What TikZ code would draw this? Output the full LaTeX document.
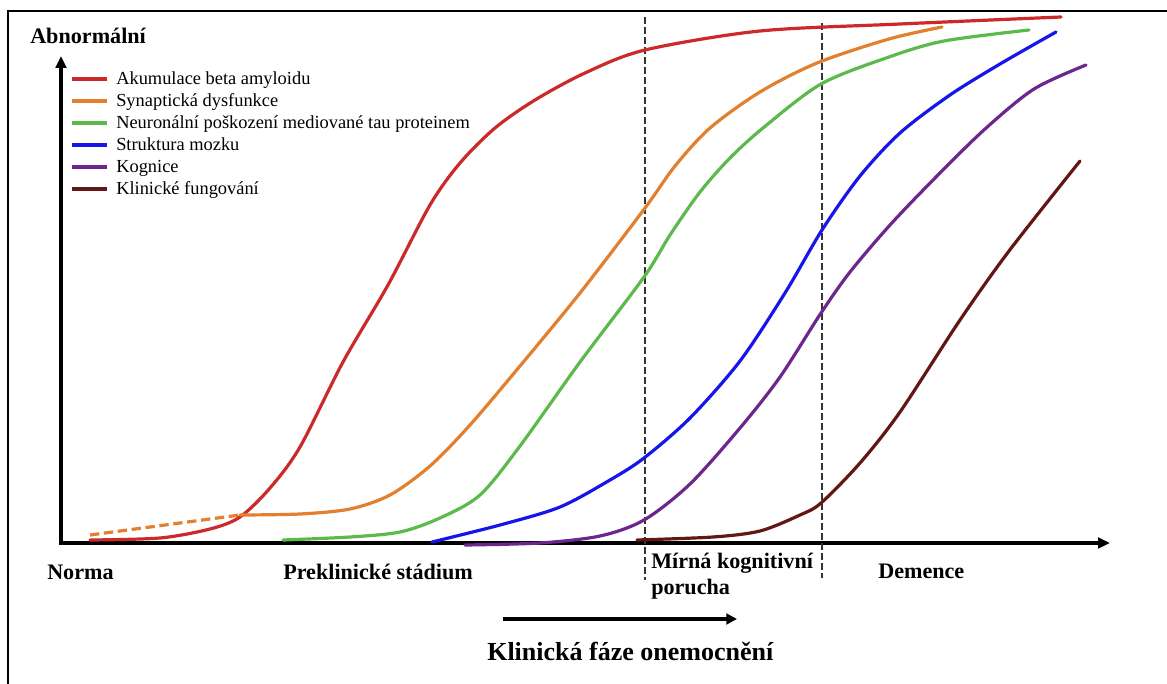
\documentclass[tikz,border=0pt]{standalone}
\usepackage{fontspec}
\setmainfont{Liberation Serif}
\usetikzlibrary{arrows.meta,calc}
\definecolor{amyloid}{RGB}{204,42,42}
\definecolor{synapse}{RGB}{226,128,48}
\definecolor{tau}{RGB}{92,186,76}
\definecolor{brain}{RGB}{22,22,232}
\definecolor{cognition}{RGB}{108,38,140}
\definecolor{clinical}{RGB}{98,22,22}
\begin{document}
\begin{tikzpicture}[x=0.75pt, y=-0.75pt,
    curve/.style={line width=2.4pt, line cap=round},
    axis/.style={line width=2.6pt},
    phase/.style={inner sep=0pt, anchor=base west, font=\fontsize{16.6pt}{20pt}\selectfont\bfseries},
    legtext/.style={inner sep=0pt, anchor=base west, font=\fontsize{13.8pt}{16pt}\selectfont},
    stageline/.style={line width=1.4pt, black!80, dash pattern=on 5pt off 2.5pt}]
    \useasboundingbox (0,0) rectangle (1167,684);
    \draw[line width=1.5pt] (8,690) -- (8,11) -- (1170,11);

    \coordinate (ytip) at (61,56);
    \coordinate (xtip) at (1110,543);
    \draw[axis, {Triangle[length=9pt, width=8pt]}-{Triangle[length=9pt, width=8pt]}] (ytip) |- (xtip);
    \node[phase] (abnormal) at (30,44) {Abnormální};

    \draw[stageline] (645,17) -- (645,580);
    \draw[stageline] (822,23) -- (822,578);

    \foreach \txt/\col [count=\i] in {Akumulace beta amyloidu/amyloid, Synaptická dysfunkce/synapse,
        Neuronální poškození mediované tau proteinem/tau, Struktura mozku/brain,
        Kognice/cognition, Klinické fungování/clinical}
    {
        \node[legtext] (leg\i) at (116,{85+22*(\i-1)}) {\txt};
        \draw[curve, \col, line cap=butt] ($(leg\i.base west)+(-44,-6)$) -- ++(35,0);
    }

    \draw[curve, synapse, line cap=butt, dash pattern=on 7pt off 3.5pt] (90,535) -- (240,515);
    \draw[curve, amyloid] plot[smooth] coordinates {(90,540) (160,538) (210,529) (240,517) (270,488)
        (300,447) (343,362) (388,285) (430,205) (460,163) (495,128) (535,100) (585,73) (645,50)
        (760,31) (900,24) (1061,17)};
    \draw[curve, synapse] plot[smooth] coordinates {(240,515) (300,514) (350,509) (390,495)
        (430,466) (470,425) (520,366) (580,293) (645,208) (675,166) (710,128) (760,92) (817,63)
        (889,39) (942,27)};
    \draw[curve, tau] plot[smooth] coordinates {(283,540) (350,537) (400,532) (440,518) (480,495)
        (520,446) (580,362) (644,277) (670,235) (700,192) (730,158) (763,128) (821,84) (889,57)
        (944,41) (1029,30)};
    \draw[curve, brain] plot[smooth] coordinates {(432,542) (500,525) (560,507) (610,480) (644,458)
        (690,418) (740,361) (785,293) (822,230) (860,176) (900,133) (950,95) (1000,64) (1056,32)};
    \draw[curve, cognition] plot[smooth] coordinates {(465,545) (540,543) (600,536) (644,520)
        (690,484) (740,428) (780,377) (821,313) (850,272) (890,225) (935,178) (985,129) (1034,89)
        (1086,65)};
    \draw[curve, clinical] plot[smooth] coordinates {(637,540) (713,537) (760,531) (800,515)
        (821,503) (860,463) (900,412) (960,320) (1009,251) (1080,161)};

    \node[phase] (normal) at (47,579) {Norma};
    \node[phase] (preclin) at (283,579) {Preklinické stádium};
    \node[phase] (mci) at (651,568) {Mírná kognitivní};
    \node[phase] (mci2) at (651,594) {porucha};
    \node[phase] (dementia) at (878,578) {Demence};

    \coordinate (phasestart) at (503,619);
    \coordinate (phaseend) at (737,619);
    \draw[axis, -{Triangle[length=8pt, width=8pt]}] (phasestart) -- (phaseend);
    \node[phase, font=\fontsize{19.5pt}{23pt}\selectfont\bfseries] (clinphase) at (487,660) {Klinická fáze onemocnění};
\end{tikzpicture}
\end{document}
